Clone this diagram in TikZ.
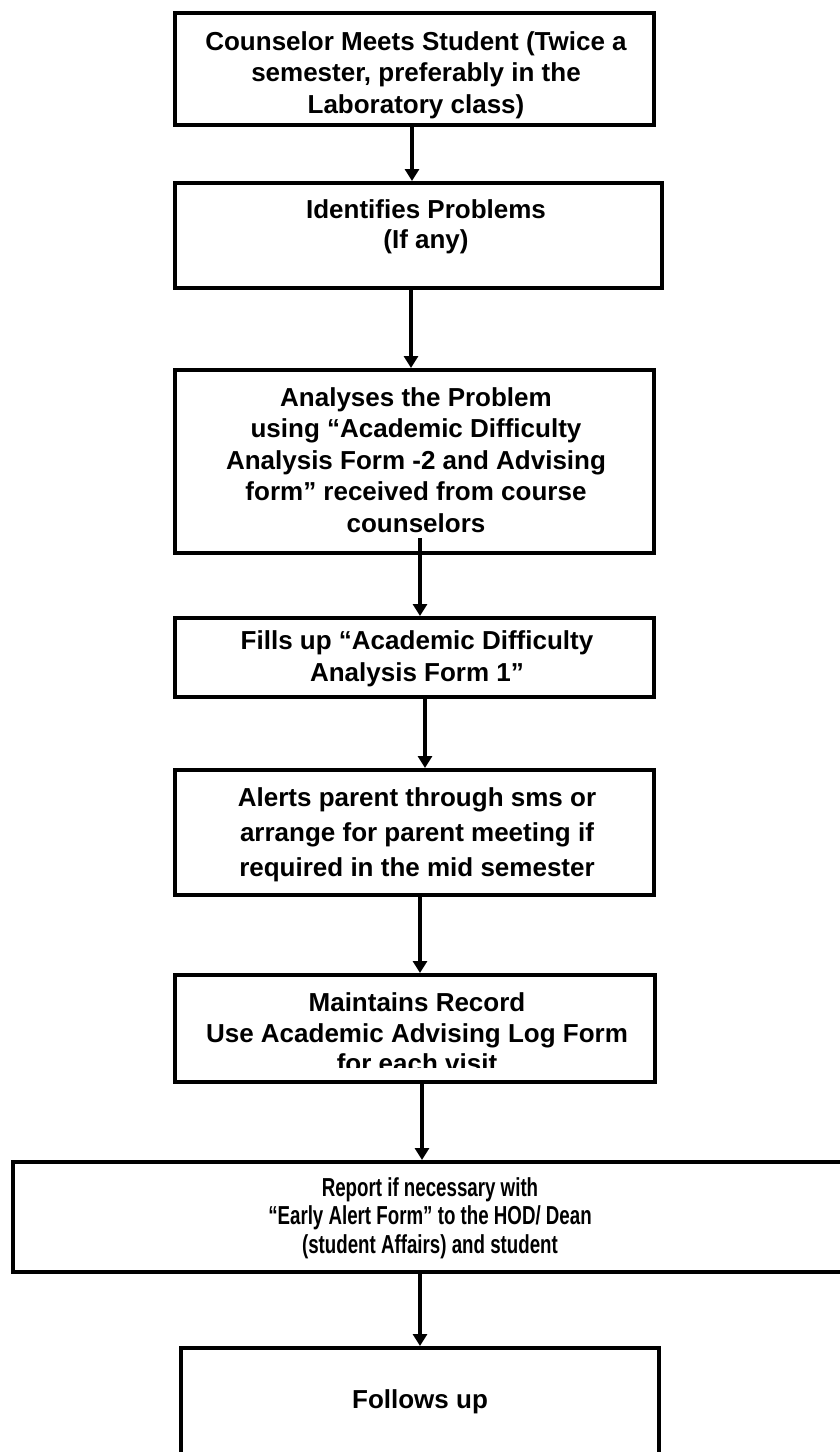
\documentclass[tikz,border=0pt]{standalone}
\usepackage{fontspec}
\setmainfont{Liberation Sans}
\newfontfamily\narrowfont[FakeStretch=0.72]{Liberation Sans}
\usetikzlibrary{arrows.meta}
\begin{document}
\begin{tikzpicture}[x=1pt,y=-1pt,
  box/.style={draw=black, line width=4pt, inner sep=0pt, outer sep=0pt, fill=white},
  lbl/.style={align=center, inner sep=0pt, text=black},
  conn/.style={line width=3.5pt, shorten >=2pt, -{Triangle[width=14pt,length=12pt]}}]
\useasboundingbox (0,0) rectangle (840,1452);
\clip (0,0) rectangle (840,1452);
% boxes
\node[box, minimum width=479pt, minimum height=112pt] (b1) at (414.5,69) {};
\node[box, minimum width=487pt, minimum height=105pt] (b2) at (418.5,235.5) {};
\node[box, minimum width=479pt, minimum height=183pt] (b3) at (414.5,461.5) {};
\node[box, minimum width=479pt, minimum height=79pt] (b4) at (414.5,657.5) {};
\node[box, minimum width=479pt, minimum height=125pt] (b5) at (414.5,832.5) {};
\node[box, minimum width=480pt, minimum height=107pt] (b6) at (415,1028.5) {};
\node[box, minimum width=837pt, minimum height=110pt] (b7) at (431.5,1217) {};
\node[box, minimum width=478pt, minimum height=122pt] (b8) at (420,1409) {};
% texts
\node[lbl, font=\bfseries\fontsize{26}{31.5}\selectfont] (t1) at (416,75)
  {Counselor Meets Student (Twice a\\semester, preferably in the\\Laboratory class)};
\node[lbl, font=\bfseries\fontsize{26}{30}\selectfont] (t2) at (426,227)
  {Identifies Problems\\(If any)};
\node[lbl, font=\bfseries\fontsize{26}{31.5}\selectfont] (t3) at (416,460)
  {Analyses the Problem\\using “Academic Difficulty\\Analysis Form -2 and Advising\\form” received from course\\counselors};
\node[lbl, font=\bfseries\fontsize{26}{32}\selectfont] (t4) at (417,659)
  {Fills up “Academic Difficulty\\Analysis Form 1”};
\node[lbl, font=\bfseries\fontsize{26}{35}\selectfont] (t5) at (417,835)
  {Alerts parent through sms or\\arrange for parent meeting if\\required in the mid semester};
\begin{scope}
\clip (175,975) rectangle (655,1067);
\node[lbl, font=\bfseries\fontsize{26}{30.5}\selectfont] (t6) at (417,1033)
  {Maintains Record\\Use Academic Advising Log Form\\for each visit};
\end{scope}
\node[lbl, font=\narrowfont\bfseries\fontsize{26}{28.5}\selectfont] (t7) at (430,1218)
  {Report if necessary with\\“Early Alert Form” to the HOD/ Dean\\(student Affairs) and student};
\node[lbl, font=\bfseries\fontsize{26}{30}\selectfont] (t8) at (420,1402) {Follows up};
% connectors
\coordinate (x1) at (412,0);
\coordinate (x2) at (411,0);
\coordinate (s3) at (420,538);
\coordinate (x4) at (425,0);
\coordinate (x5) at (420,0);
\coordinate (x6) at (422,0);
\coordinate (x7) at (420,0);
\draw[conn] (b1.south -| x1) -- (b2.north -| x1);
\draw[conn] (b2.south -| x2) -- (b3.north -| x2);
\draw[conn] (s3) -- (b4.north -| s3);
\draw[conn] (b4.south -| x4) -- (b5.north -| x4);
\draw[conn] (b5.south -| x5) -- (b6.north -| x5);
\draw[conn] (b6.south -| x6) -- (b7.north -| x6);
\draw[conn] (b7.south -| x7) -- (b8.north -| x7);
\end{tikzpicture}
\end{document}
